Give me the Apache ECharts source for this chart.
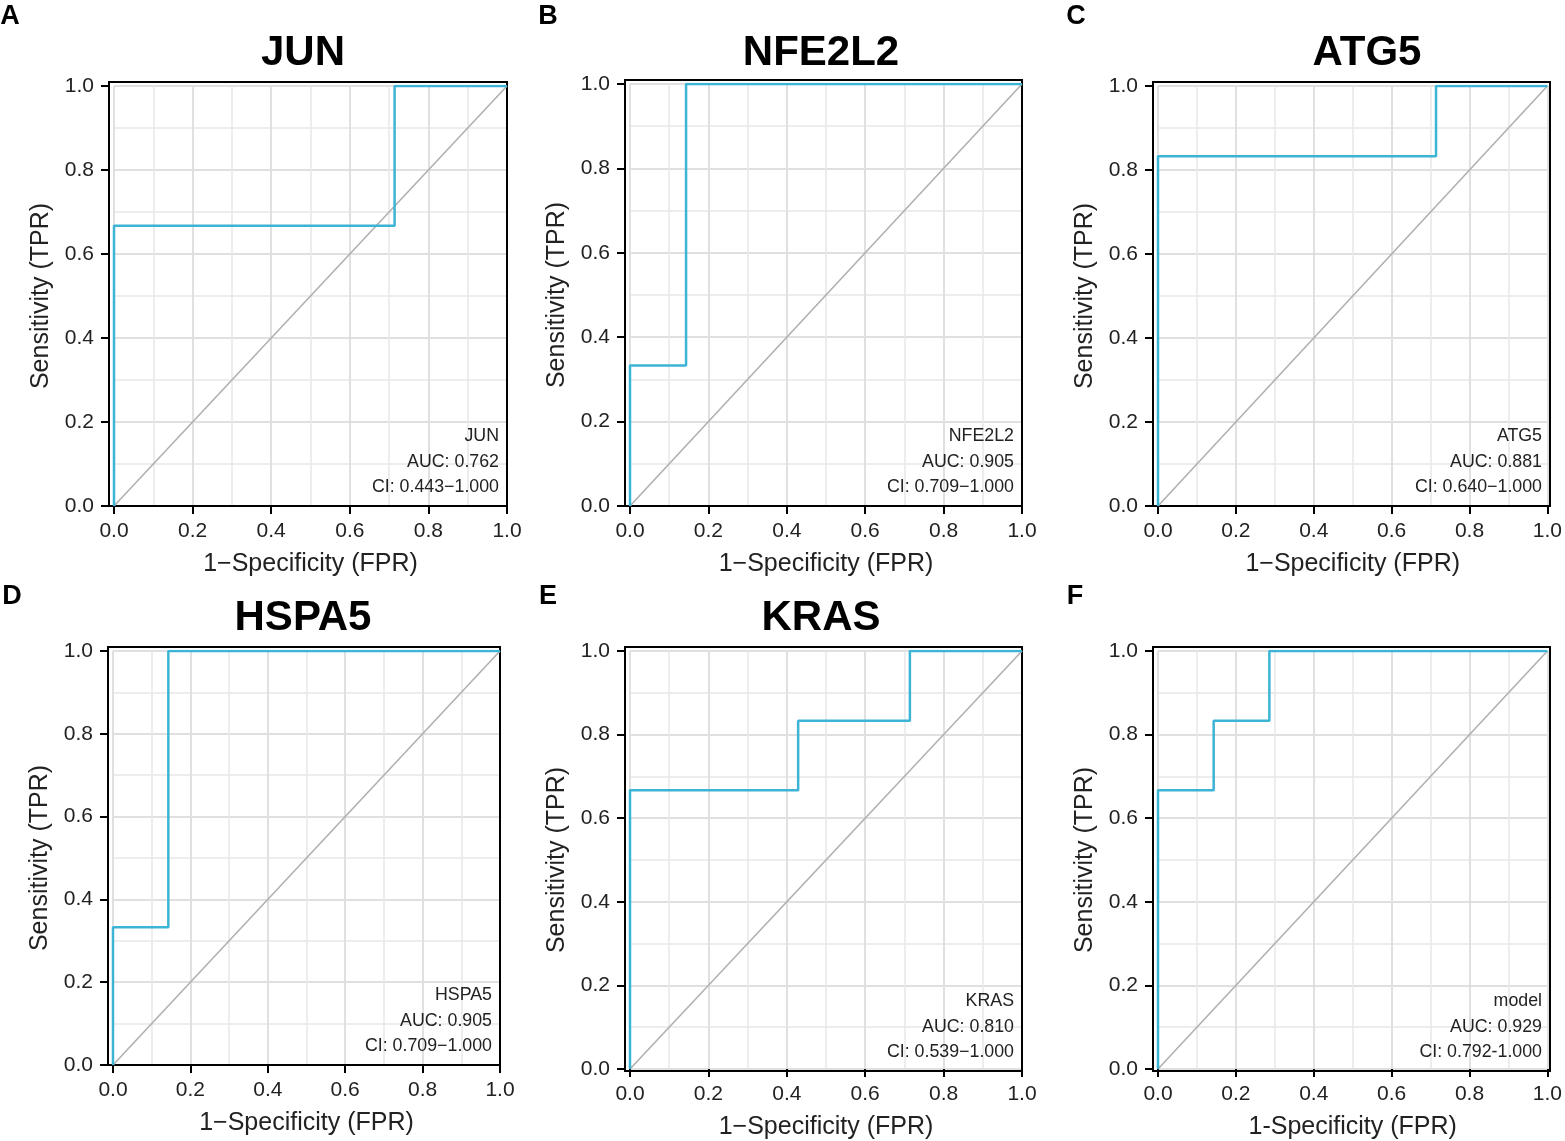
<!DOCTYPE html>
<html>
<head>
<meta charset="utf-8">
<script src="https://cdn.jsdelivr.net/npm/echarts@6/dist/echarts.min.js"></script>
<style>
  html, body { margin: 0; padding: 0; background: #fff; }
  #main { width: 1565px; height: 1141px; }
</style>
</head>
<body>
<div id="main"></div>
<script>
// ROC curves, one per panel
var letters = ['A', 'B', 'C', 'D', 'E', 'F'];
var titles = ['JUN', 'NFE2L2', 'ATG5', 'HSPA5', 'KRAS', ''];
var curveNames = ['JUN', 'NFE2L2', 'ATG5', 'HSPA5', 'KRAS', 'model'];
var aucValues = ['0.762', '0.905', '0.881', '0.905', '0.810', '0.929'];
var ciValues = ['0.443\u22121.000', '0.709\u22121.000', '0.640\u22121.000', '0.709\u22121.000', '0.539\u22121.000', '0.792-1.000'];
var xNames = ['1\u2212Specificity (FPR)', '1\u2212Specificity (FPR)', '1\u2212Specificity (FPR)',
              '1\u2212Specificity (FPR)', '1\u2212Specificity (FPR)', '1-Specificity (FPR)'];

var fprJUN = [0, 0, 0.714, 0.714, 1];
var tprJUN = [0, 0.667, 0.667, 1, 1];
var fprNFE2L2 = [0, 0, 0.143, 0.143, 1];
var tprNFE2L2 = [0, 0.333, 0.333, 1, 1];
var fprATG5 = [0, 0, 0.714, 0.714, 1];
var tprATG5 = [0, 0.833, 0.833, 1, 1];
var fprHSPA5 = [0, 0, 0.143, 0.143, 1];
var tprHSPA5 = [0, 0.333, 0.333, 1, 1];
var fprKRAS = [0, 0, 0.429, 0.429, 0.714, 0.714, 1];
var tprKRAS = [0, 0.667, 0.667, 0.833, 0.833, 1, 1];
var fprModel = [0, 0, 0.143, 0.143, 0.286, 0.286, 1];
var tprModel = [0, 0.667, 0.667, 0.833, 0.833, 1, 1];

var fprList = [fprJUN, fprNFE2L2, fprATG5, fprHSPA5, fprKRAS, fprModel];
var tprList = [tprJUN, tprNFE2L2, tprATG5, tprHSPA5, tprKRAS, tprModel];
var diagX = [0, 1];
var diagY = [0, 1];

// layout (pixels): x of 0 and 1, y of 1 and 0, title / letter spots
var layout = [
  { x0: 114, x1: 507, y1: 86, y0: 506, tx: 303, ty: 53, lx: 10, ly: 17 },
  { x0: 630, x1: 1022, y1: 84, y0: 506, tx: 821, ty: 53, lx: 548, ly: 17 },
  { x0: 1158, x1: 1550, y1: 86, y0: 506, tx: 1367, ty: 53, lx: 1076, ly: 17 },
  { x0: 113, x1: 500, y1: 651, y0: 1065, tx: 303, ty: 618, lx: 12, ly: 597 },
  { x0: 630, x1: 1022, y1: 651, y0: 1071, tx: 821, ty: 618, lx: 548, ly: 597 },
  { x0: 1158, x1: 1550, y1: 651, y0: 1071, tx: 1367, ty: 618, lx: 1075, ly: 597 }
];

var FONT = '"Liberation Sans", Arial, Helvetica, sans-serif';
var chart = echarts.init(document.getElementById('main'), null, { renderer: 'canvas' });

var grids = [], xAxes = [], yAxes = [], series = [], graphics = [];

layout.forEach(function (p, i) {
  // data grid
  grids.push({ left: p.x0, top: p.y1, width: p.x1 - p.x0, height: p.y0 - p.y1 });
  // frame grid, a bit wider on the left and top; its border is the box
  grids.push({ left: p.x0 - 5, top: p.y1 - 4, width: p.x1 - p.x0 + 5, height: p.y0 - p.y1 + 4,
    show: true, borderColor: '#000', borderWidth: 2, backgroundColor: 'transparent', z: 3 });

  xAxes.push({
    type: 'value', gridIndex: 2 * i, min: 0, max: 1, interval: 0.2,
    name: xNames[i], nameLocation: 'middle', nameGap: 46,
    nameTextStyle: { fontFamily: FONT, fontSize: 25, color: '#222' },
    axisLine: { show: false, onZero: false },
    axisTick: { show: true, length: 8, lineStyle: { color: '#000', width: 2 } },
    axisLabel: { fontFamily: FONT, fontSize: 21, color: '#222', margin: 15,
      formatter: function (v) { return v.toFixed(1); } },
    splitLine: { show: true, lineStyle: { color: '#e0e0e0', width: 2 } },
    minorTick: { show: false, splitNumber: 2 },
    minorSplitLine: { show: true, lineStyle: { color: '#e8e8e8', width: 1.5 } }
  });
  yAxes.push({
    type: 'value', gridIndex: 2 * i, min: 0, max: 1, interval: 0.2, offset: 5,
    name: 'Sensitivity (TPR)', nameLocation: 'middle', nameGap: 55, nameRotate: 90,
    nameTextStyle: { fontFamily: FONT, fontSize: 25, color: '#222' },
    axisLine: { show: false, onZero: false },
    axisTick: { show: true, length: 8, lineStyle: { color: '#000', width: 2 } },
    axisLabel: { fontFamily: FONT, fontSize: 21, color: '#222', margin: 15,
      formatter: function (v) { return v.toFixed(1); } },
    splitLine: { show: true, lineStyle: { color: '#e0e0e0', width: 2 } },
    minorTick: { show: false, splitNumber: 2 },
    minorSplitLine: { show: true, lineStyle: { color: '#e8e8e8', width: 1.5 } }
  });
  // hidden axes for the frame grid
  xAxes.push({ type: 'value', gridIndex: 2 * i + 1, show: false, min: 0, max: 1 });
  yAxes.push({ type: 'value', gridIndex: 2 * i + 1, show: false, min: 0, max: 1 });

  series.push({
    type: 'line', xAxisIndex: 2 * i, yAxisIndex: 2 * i, silent: true,
    showSymbol: false, symbol: 'none', z: 3,
    lineStyle: { color: '#b0b0b0', width: 1.6 },
    data: diagX.map(function (x, k) { return [x, diagY[k]]; })
  });
  series.push({
    type: 'line', xAxisIndex: 2 * i, yAxisIndex: 2 * i, silent: true,
    showSymbol: false, symbol: 'none', z: 4,
    lineStyle: { color: '#3cb4d5', width: 2.5 },
    data: fprList[i].map(function (x, k) { return [x, tprList[i][k]]; })
  });

  // panel letter
  graphics.push({ type: 'text', x: p.lx, y: p.ly,
    style: { text: letters[i], font: 'bold 27px ' + FONT, fill: '#000',
      align: 'center', verticalAlign: 'middle' } });
  // panel title
  if (titles[i]) {
    graphics.push({ type: 'text', x: p.tx, y: p.ty,
      style: { text: titles[i], font: 'bold 42px ' + FONT, fill: '#000',
        align: 'center', verticalAlign: 'middle' } });
  }
  // AUC annotation
  graphics.push({ type: 'text', x: p.x1 - 8, y: p.y0 - 6, z: 10,
    style: { text: curveNames[i] + '\nAUC: ' + aucValues[i] + '\nCI: ' + ciValues[i],
      font: '17.8px ' + FONT, fill: '#222', lineHeight: 25.5,
      align: 'right', verticalAlign: 'bottom' } });
});

var option = {
  backgroundColor: '#fff',
  animation: false,
  grid: grids,
  xAxis: xAxes,
  yAxis: yAxes,
  series: series,
  graphic: graphics
};
chart.setOption(option);
</script>
</body>
</html>
